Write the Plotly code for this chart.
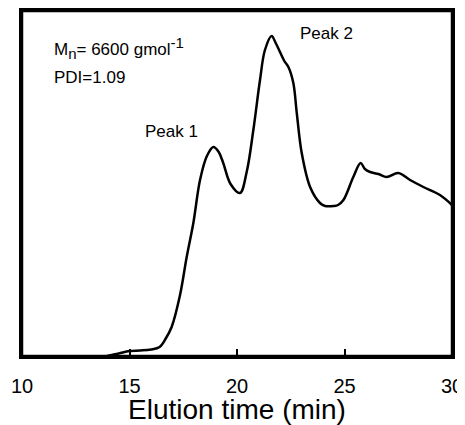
import plotly.graph_objects as go

elution_time = [13.95, 14.5, 15.0, 15.5, 16.0, 16.4, 16.7, 16.96, 17.35, 17.66, 17.97, 18.28, 18.6, 18.9,
                19.15, 19.36, 19.7, 20.14, 20.45, 20.76, 21.07, 21.3, 21.61, 21.8, 22.0, 22.2, 22.39,
                22.62, 22.78, 23.01, 23.4, 23.86, 24.1, 24.5, 24.7, 24.95, 25.41, 25.75, 25.95, 26.19,
                26.58, 26.96, 27.5, 28.05, 28.67, 29.44, 30.0]
signal = [0, 2.5, 5, 5.5, 6.5, 9, 18, 29, 61, 99, 133, 176, 200, 209,
          204, 193, 172, 163, 184, 226, 276, 306, 320, 313, 304, 295, 289,
          273, 243, 203, 169, 153, 150, 150, 151, 156, 179, 193, 187, 184,
          182, 179, 183, 176, 169, 161, 151]

x_ticks = [10, 15, 20, 25, 30]

FONT = "Liberation Sans, Arial, sans-serif"

fig = go.Figure()
fig.add_trace(go.Scatter(x=elution_time, y=signal, mode="lines",
                         line=dict(color="black", width=2.5, shape="spline", smoothing=1.0),
                         hoverinfo="skip", showlegend=False, cliponaxis=False))

ann_font = dict(family=FONT, size=17, color="black")
fig.add_annotation(x=11.4, y=308, xref="x", yref="y",
                   text="M<sub><span style='font-size:15px'>n</span></sub>= 6600 gmol<sup><span style='font-size:15px'>-1</span></sup>",
                   showarrow=False, xanchor="left", yanchor="middle", font=ann_font)
fig.add_annotation(x=11.4, y=278.5, xref="x", yref="y", text="PDI=1.09",
                   showarrow=False, xanchor="left", yanchor="middle", font=ann_font)
fig.add_annotation(x=15.63, y=225, xref="x", yref="y", text="Peak 1",
                   showarrow=False, xanchor="left", yanchor="middle", font=ann_font)
fig.add_annotation(x=22.84, y=323, xref="x", yref="y", text="Peak 2",
                   showarrow=False, xanchor="left", yanchor="middle", font=ann_font)

# frame around the plotting area
fig.add_shape(type="rect", xref="paper", yref="paper", x0=0, x1=1, y0=0, y1=1,
              line=dict(color="black", width=2.5), layer="above")

# page body has an 8px margin, so the figure is shrunk/offset to fit the 465x425 window
fig.update_layout(
    width=457, height=417,
    margin=dict(l=14, r=13, t=3, b=69, autoexpand=False),
    paper_bgcolor="white", plot_bgcolor="white",
    font=dict(family=FONT, color="black"),
    xaxis=dict(range=[10, 30], tickvals=x_ticks, ticktext=[str(v) for v in x_ticks],
               ticks="inside", ticklen=7, tickwidth=2, tickcolor="black",
               ticklabelstandoff=10,
               showline=True, linecolor="black", linewidth=2.5, mirror=True,
               showgrid=False, zeroline=False, automargin=False,
               tickfont=dict(family=FONT, size=20, color="black"),
               title=dict(text="Elution time (min)", font=dict(family=FONT, size=28, color="black"),
                          standoff=3)),
    yaxis=dict(range=[0, 345], showticklabels=False, ticks="", automargin=False,
               showline=True, linecolor="black", linewidth=2.5, mirror=True,
               showgrid=False, zeroline=False),
)

fig.write_html("out.html")
